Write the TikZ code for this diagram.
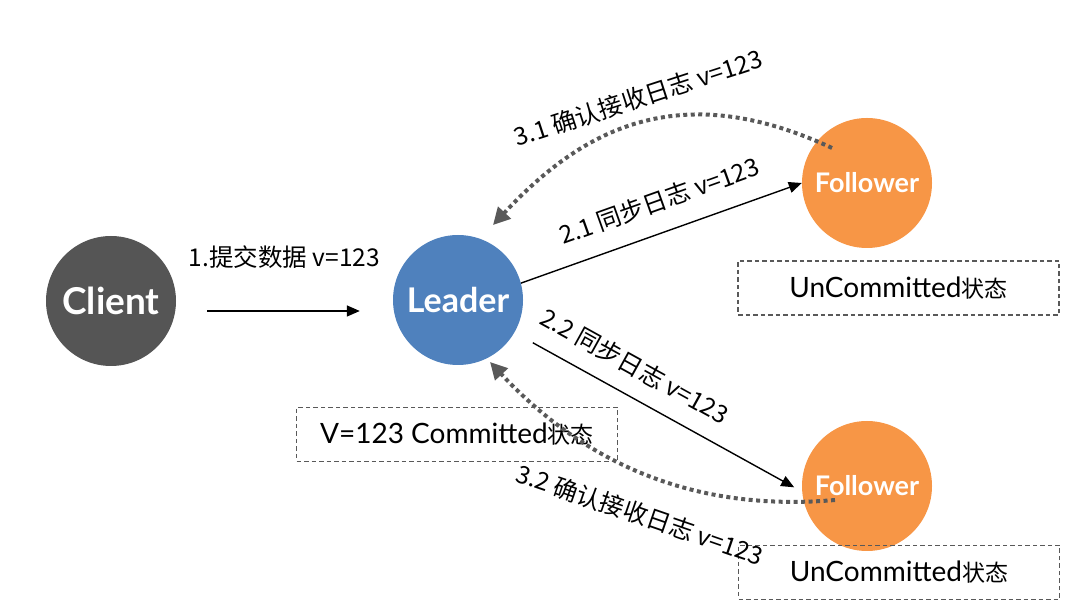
\documentclass[tikz,border=0pt]{standalone}
\usepackage{fontspec}
\setmainfont{Lato}
\newfontfamily\cjk{Noto Sans CJK SC}
\usepackage{tikz}
\usetikzlibrary{arrows.meta}
\definecolor{clientgray}{HTML}{555555}
\definecolor{leaderblue}{HTML}{4F81BD}
\definecolor{followerorange}{HTML}{F79646}
\definecolor{linegray}{HTML}{595959}
\newcommand{\zh}[1]{{\cjk\fontsize{23}{27}\selectfont #1}}
\tikzstyle{peer}     = [circle, minimum size=130pt, inner sep=0pt, text=white]
\tikzstyle{statebox} = [draw=linegray, line width=1.5pt, dash pattern=on 4.5pt off 3pt, minimum width=321pt, minimum height=54pt, inner sep=0pt, font=\fontsize{28}{32}\selectfont]
\tikzstyle{msg}      = [draw, line width=1.4pt, -{Triangle[length=13pt, width=11pt]}]
\tikzstyle{ack}      = [draw=linegray, line width=4pt, dash pattern=on 4pt off 3.5pt, -{Triangle[length=17pt, width=17pt]}]
\tikzstyle{lbl}      = [inner sep=0pt, font=\cjk\fontsize{24.5}{29}\selectfont]

\begin{document}
\begin{tikzpicture}[x=1pt, y=1pt]
\useasboundingbox (0,0) rectangle (1068,610);

% nodes
\node [peer, fill=clientgray,     font=\bfseries\fontsize{37}{44}\selectfont] at ( 111 , 309 )   (client)    {Client};
\node [peer, fill=leaderblue,     font=\bfseries\fontsize{34}{40}\selectfont] at ( 458 , 310 )   (leader)    {Leader};
\node [peer, fill=followerorange, font=\bfseries\fontsize{27}{32}\selectfont] at ( 867 , 427 )   (followerA) {Follower};
\node [peer, fill=followerorange, font=\bfseries\fontsize{27}{32}\selectfont] at ( 867 , 124 )   (followerB) {Follower};
\node [statebox]                                                              at ( 898.5 , 322 ) (stateA)    {UnCommitted\zh{状态}};
\node [statebox]                                                              at ( 899 , 37.5 )  (stateB)    {UnCommitted\zh{状态}};
\node [statebox]                                                              at ( 457 , 175.5 ) (stateL)    {V=123 Committed\zh{状态}};

%  edges
\path
  ([yshift=-10pt]client.east) edge [msg, shorten <=31pt, shorten >=33pt] node [lbl, above=42pt]             {1.提交数据 v=123}  ([yshift=-11pt]leader.west)

  (leader.15)                 edge [msg]                                  node [lbl, sloped, pos=0.53, above=19pt] {2.1 同步日志 v=123} (followerA.180)

  (leader.-30)                edge [msg, shorten <=21pt, shorten >=9pt]   node [lbl, sloped, pos=0.37, above=17pt] {2.2 同步日志 v=123} (followerB.185);

\draw [ack] ([shift={(-35pt,35pt)}]followerA.center) .. controls +(155:170pt) and +(47:130pt) .. ([shift={(35pt,75pt)}]leader.center)
  node [lbl, pos=0.5, yshift=26pt, rotate=18]   {3.1 确认接收日志 v=123};

\draw [ack] ([shift={(-32pt,-14pt)}]followerB.center) .. controls +(185:150pt) and +(-47:130pt) .. ([shift={(32pt,-62pt)}]leader.center)
  node [lbl, pos=0.5, yshift=-43pt, rotate=-19] {3.2 确认接收日志 v=123};

\end{tikzpicture}
\end{document}
